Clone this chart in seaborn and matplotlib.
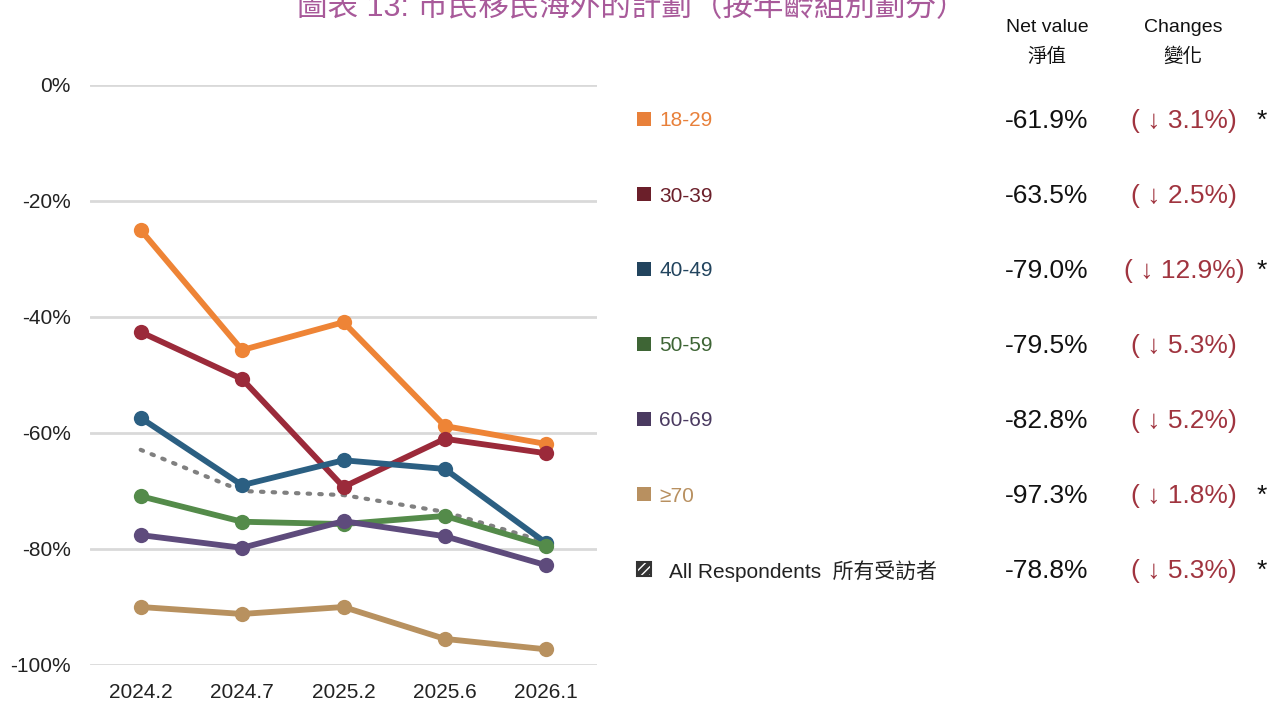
import numpy as np
import pandas as pd
import matplotlib
matplotlib.use('Agg')
import matplotlib.pyplot as plt
import seaborn as sns
from matplotlib.patches import Rectangle

periods = ['2024.2', '2024.7', '2025.2', '2025.6', '2026.1']
groups = ['18-29', '30-39', '40-49', '50-59', '60-69', '≥70']

v_18_29 = [-25.0, -45.7, -40.9, -58.8, -61.9]
v_30_39 = [-42.6, -50.7, -69.3, -61.0, -63.5]
v_40_49 = [-57.4, -69.0, -64.7, -66.2, -79.0]
v_50_59 = [-70.9, -75.3, -75.7, -74.3, -79.5]
v_60_69 = [-77.6, -79.8, -75.2, -77.8, -82.8]
v_70 = [-90.0, -91.2, -90.0, -95.5, -97.3]
v_all = [-62.9, -70.0, -70.7, -73.6, -78.8]

net_values = ['-61.9%', '-63.5%', '-79.0%', '-79.5%', '-82.8%', '-97.3%', '-78.8%']
changes = ['( ↓ 3.1%)', '( ↓ 2.5%)', '( ↓ 12.9%)', '( ↓ 5.3%)', '( ↓ 5.2%)', '( ↓ 1.8%)', '( ↓ 5.3%)']
significant = [True, False, True, False, False, True, True]

line_colors = ['#EE8436', '#9B2A3A', '#2B5F82', '#548B4A', '#5E4B7C', '#B8915F']
legend_colors = ['#E8803A', '#6B1F2A', '#22445E', '#3E6535', '#4A3A60', '#B89060']
change_color = '#A0343F'

sns.set_style('white')
plt.rcParams['font.family'] = ['Liberation Sans', 'Noto Sans CJK TC', 'DejaVu Sans']

rows = []
for g, vals in zip(groups, [v_18_29, v_30_39, v_40_49, v_50_59, v_60_69, v_70]):
    for p, v in zip(periods, vals):
        rows.append({'period': p, 'group': g, 'value': v})
df = pd.DataFrame(rows)
df_all = pd.DataFrame({'period': periods, 'value': v_all})

W, H = 1269, 702
fig = plt.figure(figsize=(W / 100, H / 100), dpi=100)
ax = fig.add_axes([90 / W, 1 - 665 / H, (597 - 90) / W, (665 - 85) / H])

# all respondents: dotted grey
sns.lineplot(data=df_all, x='period', y='value', ax=ax, color='#808080',
             linestyle=(0, (0.6, 2.2)), linewidth=3, dash_capstyle='round',
             sort=False, zorder=2)
sns.lineplot(data=df, x='period', y='value', hue='group', hue_order=groups,
             palette=line_colors, ax=ax, linewidth=4.2, marker='o',
             markersize=11, markeredgewidth=0, sort=False, legend=False,
             zorder=3)
for line in ax.lines:
    line.set_clip_on(False)

ax.set_xlim(-0.5, 4.5)
ax.set_ylim(-100, 0)
ax.set_yticks([0, -20, -40, -60, -80, -100])
ax.set_yticklabels(['0%', '-20%', '-40%', '-60%', '-80%', '-100%'])
ax.yaxis.grid(True, color='#D9D9D9', linewidth=2)
ax.set_axisbelow(True)
for s in ax.spines.values():
    s.set_visible(False)
ax.tick_params(axis='both', length=0, labelsize=15, colors='#222222')
ax.tick_params(axis='y', pad=14)
ax.tick_params(axis='x', pad=13)
ax.set_xlabel('')
ax.set_ylabel('')

def fx(px):
    return px / W

def fy(py):
    return 1 - py / H

fig.text(fx(632), fy(8), '圖表 13: 市民移民海外的計劃（按年齡組別劃分）',
         ha='center', va='center', fontsize=22, color='#A85A9A')

fig.text(fx(1047), fy(27), 'Net value', ha='center', va='center', fontsize=14, color='#111111')
fig.text(fx(1047), fy(57), '淨值', ha='center', va='center', fontsize=14, color='#111111')
fig.text(fx(1183), fy(27), 'Changes', ha='center', va='center', fontsize=14, color='#111111')
fig.text(fx(1183), fy(57), '變化', ha='center', va='center', fontsize=14, color='#111111')

# legend + table rows
row_y = [121, 196, 271, 346, 421, 496, 571]
sq = 14
for i, y in enumerate(row_y):
    if i < len(groups):
        fig.patches.append(Rectangle((fx(637), fy(y - 2 + sq / 2)), sq / W, sq / H,
                                     transform=fig.transFigure, facecolor=legend_colors[i],
                                     edgecolor='none'))
        fig.text(fx(659), fy(y), groups[i], ha='left', va='center', fontsize=15,
                 color=legend_colors[i])
    else:
        fig.patches.append(Rectangle((fx(637), fy(y - 2 + sq / 2)), sq / W, sq / H,
                                     transform=fig.transFigure, facecolor='#333333',
                                     edgecolor='white', hatch='////', linewidth=0))
        fig.patches.append(Rectangle((fx(637), fy(y - 2 + sq / 2)), sq / W, sq / H,
                                     transform=fig.transFigure, facecolor='none',
                                     edgecolor='#333333', linewidth=1.5))
        fig.text(fx(669), fy(y), 'All Respondents  所有受訪者', ha='left', va='center',
                 fontsize=15, color='#222222')
    fig.text(fx(1047), fy(y), net_values[i], ha='center', va='center', fontsize=19,
             color='#111111')
    fig.text(fx(1184), fy(y), changes[i], ha='center', va='center', fontsize=19,
             color=change_color)
    if significant[i]:
        fig.text(fx(1262), fy(y), '*', ha='center', va='center', fontsize=19,
                 color='#111111')

fig.savefig('out.png', dpi=100)
